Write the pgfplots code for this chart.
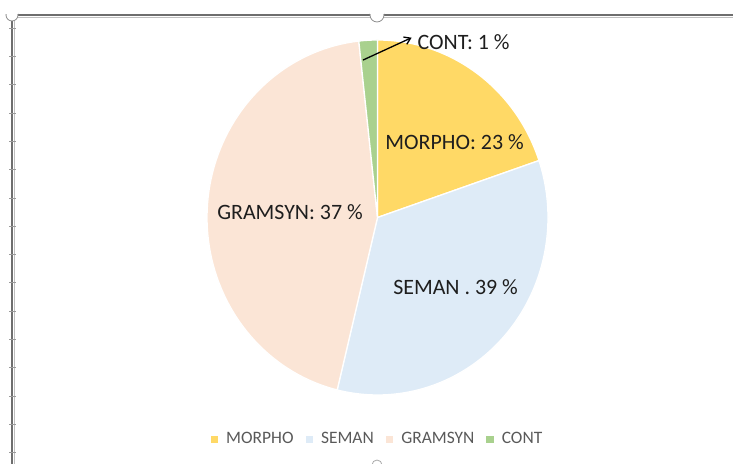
\documentclass[border=0pt]{standalone}
\usepackage{pgfplots}
\pgfplotsset{compat=1.18}
\usetikzlibrary{arrows.meta}
\usepackage{fontspec}
\setmainfont{Carlito}
\definecolor{morpho}{HTML}{FFD966}
\definecolor{seman}{HTML}{DEEBF7}
\definecolor{gram}{HTML}{FBE5D6}
\definecolor{cont}{HTML}{A9D18E}
\definecolor{frame}{HTML}{6E6E6E}
\definecolor{lbl}{HTML}{1E1E1E}
\definecolor{leg}{HTML}{595959}
% slice shares in percent (as drawn)
\def\vM{19.8}\def\vS{34.0}\def\vG{44.45}\def\vC{1.75}
\begin{document}
\begin{tikzpicture}[x=1bp,y=1bp]
\path[use as bounding box] (0,0) rectangle (733,464);
% Excel chart frame
\draw[frame,line width=1.2bp] (12,0) -- (12,449) -- (733,449);
\draw[black!25,line width=0.6bp] (14.5,0) -- (14.5,446.5) -- (733,446.5);
\foreach \k in {0,...,15} {\draw[frame!70,line width=0.5bp] (9,{436-28.3*\k}) -- (16,{436-28.3*\k});}
\pgfmathsetmacro{\aA}{90}
\pgfmathsetmacro{\aB}{90-3.6*\vM}
\pgfmathsetmacro{\aC}{\aB-3.6*\vS}
\pgfmathsetmacro{\aD}{\aC-3.6*\vG}
\pgfmathsetmacro{\aE}{\aD-3.6*\vC}
\begin{axis}[
  at={(377.5bp,246.5bp)}, anchor=center,
  scale only axis, width=341bp, height=355bp,
  xmin=-1, xmax=1, ymin=-1, ymax=1,
  hide axis, clip=false,
  legend columns=4,
  legend style={draw=none, fill=none, at={(0.5,-0.124)}, anchor=center,
    font=\fontsize{17.5}{20}\selectfont\color{leg},
    /tikz/every odd column/.append style={column sep=6bp},
    /tikz/every even column/.append style={column sep=10bp}},
  legend image code/.code={\fill[#1,draw=none] (0bp,-3.5bp) rectangle (7.5bp,3.5bp);},
]
\addplot[fill=morpho, draw=white, line width=1.3bp, line join=round, domain=\aB:\aA, samples=80, variable=\t]
  ({cos(\t)},{sin(\t)}) -- (axis cs:0,0) -- cycle;
\addlegendentry{MORPHO}
\addplot[fill=seman, draw=white, line width=1.3bp, line join=round, domain=\aC:\aB, samples=80, variable=\t]
  ({cos(\t)},{sin(\t)}) -- (axis cs:0,0) -- cycle;
\addlegendentry{SEMAN}
\addplot[fill=gram, draw=white, line width=1.3bp, line join=round, domain=\aD:\aC, samples=80, variable=\t]
  ({cos(\t)},{sin(\t)}) -- (axis cs:0,0) -- cycle;
\addlegendentry{GRAMSYN}
\addplot[fill=cont, draw=white, line width=1.3bp, line join=round, domain=\aE:\aD, samples=10, variable=\t]
  ({cos(\t)},{sin(\t)}) -- (axis cs:0,0) -- cycle;
\addlegendentry{CONT}
\node[lbl, font=\fontsize{22}{25}\selectfont] at (axis cs:0.452,0.425) {MORPHO: 23 \%};
\node[lbl, font=\fontsize{22}{25}\selectfont] at (axis cs:-0.513,0.03) {GRAMSYN: 37 \%};
\node[lbl, font=\fontsize{22}{25}\selectfont] at (axis cs:0.458,-0.39) {SEMAN . 39 \%};
\node[lbl, font=\fontsize{22}{25}\selectfont] at (axis cs:0.505,0.989) {CONT: 1 \%};
\draw[black, line width=1.3bp, -{Straight Barb[length=6bp,width=8bp]}] (axis cs:-0.085,0.887) -- (axis cs:0.2,1.013);
\end{axis}
% selection handles
\draw[frame!80, fill=white, line width=0.8bp] (377,449) circle (7);
\draw[frame!80, fill=white, line width=0.8bp] (12,449) circle (6);
\fill[white] (370,449.6) rectangle (384,458);
\fill[white] (5,449.6) rectangle (18,458);
\draw[frame!60, fill=white, line width=0.8bp] (377,-1) circle (5);
\end{tikzpicture}
\end{document}
